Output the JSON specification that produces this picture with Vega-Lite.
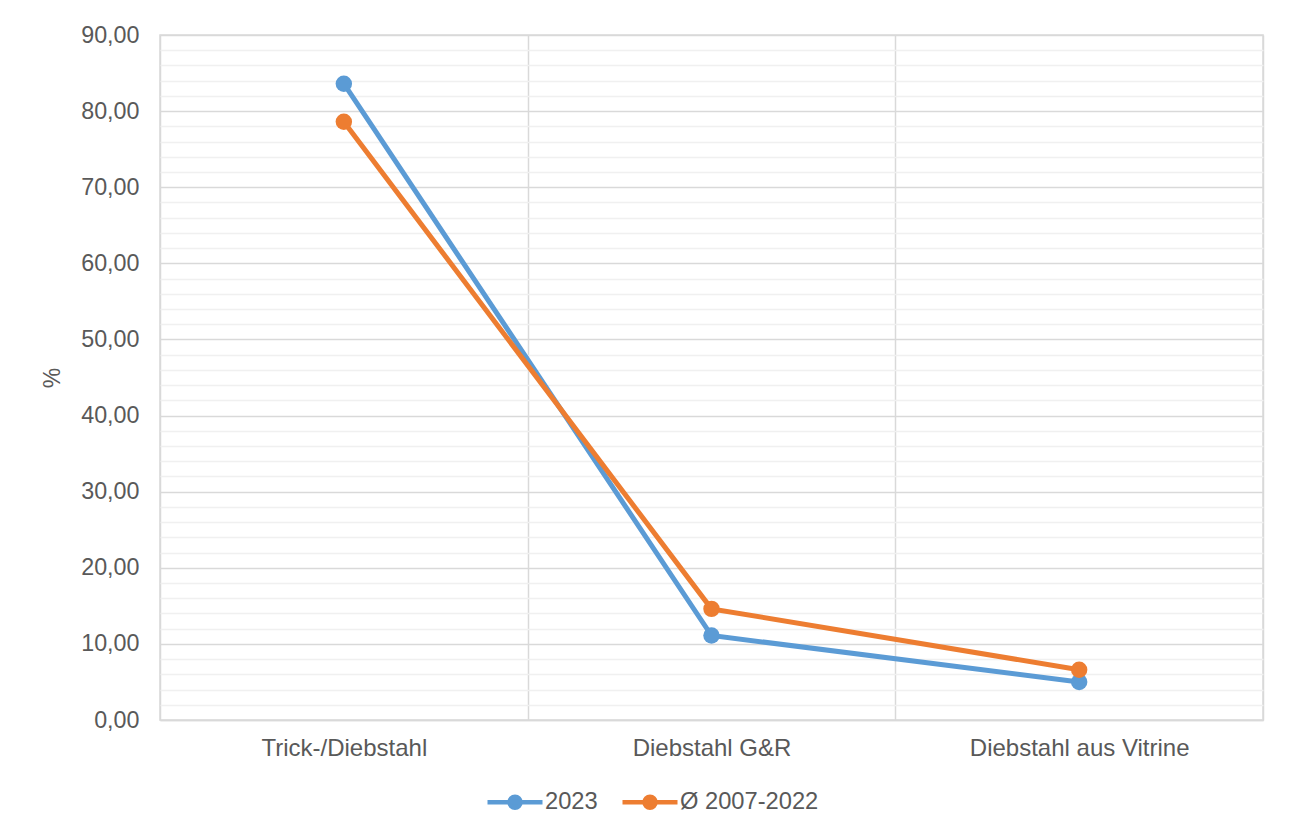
{
  "$schema": "https://vega.github.io/schema/vega-lite/v6.json",
  "width": 1103,
  "height": 685,
  "autosize": {"type": "none"},
  "padding": {"left": 160, "top": 35, "right": 28, "bottom": 112},
  "background": "white",
  "config": {
    "font": "Liberation Sans",
    "view": {"stroke": "#d9d9d9", "strokeWidth": 1.5}
  },
  "data": {
    "values": [
      {"Kategorie": "Trick-/Diebstahl", "Reihe": "2023", "Wert": 83.6},
      {"Kategorie": "Diebstahl G&R", "Reihe": "2023", "Wert": 11.1},
      {"Kategorie": "Diebstahl aus Vitrine", "Reihe": "2023", "Wert": 5.0},
      {"Kategorie": "Trick-/Diebstahl", "Reihe": "Ø 2007-2022", "Wert": 78.6},
      {"Kategorie": "Diebstahl G&R", "Reihe": "Ø 2007-2022", "Wert": 14.6},
      {"Kategorie": "Diebstahl aus Vitrine", "Reihe": "Ø 2007-2022", "Wert": 6.6}
    ]
  },
  "encoding": {
    "x": {
      "field": "Kategorie",
      "type": "nominal",
      "sort": null,
      "scale": {"type": "band", "paddingInner": 0, "paddingOuter": 0},
      "axis": {
        "title": null,
        "labelAngle": 0,
        "labelFontSize": 24,
        "labelColor": "#595959",
        "labelPadding": 16,
        "labelLimit": 400,
        "ticks": false,
        "tickBand": "extent",
        "grid": true,
        "gridColor": "#d9d9d9",
        "gridWidth": 1.5,
        "domainColor": "#d9d9d9",
        "domainWidth": 1.5
      }
    },
    "y": {
      "field": "Wert",
      "type": "quantitative",
      "scale": {"domain": [0, 90], "nice": false, "zero": true},
      "axis": {
        "title": "%",
        "titleFontSize": 23,
        "titleFontWeight": "normal",
        "titleColor": "#595959",
        "titlePadding": 16,
        "values": [0,2,4,6,8,10,12,14,16,18,20,22,24,26,28,30,32,34,36,38,40,42,44,46,48,50,52,54,56,58,60,62,64,66,68,70,72,74,76,78,80,82,84,86,88,90],
        "labelExpr": "datum.value % 10 === 0 ? replace(format(datum.value, '.2f'), '.', ',') : ''",
        "labelFontSize": 23.3,
        "labelColor": "#595959",
        "labelPadding": 21,
        "ticks": false,
        "domain": false,
        "grid": true,
        "gridColor": {"condition": {"test": "datum.value % 10 === 0", "value": "#d9d9d9"}, "value": "#f0f0f0"},
        "gridWidth": 1.5
      }
    },
    "color": {
      "field": "Reihe",
      "type": "nominal",
      "scale": {"domain": ["2023", "Ø 2007-2022"], "range": ["#5B9BD5", "#ED7D31"]},
      "legend": {
        "title": null,
        "orient": "none",
        "direction": "horizontal",
        "legendX": 325,
        "legendY": 737,
        "labelFontSize": 23.7,
        "labelColor": "#595959",
        "labelOffset": 0,
        "columnPadding": 15,
        "symbolType": "M-1,0H1M0.2,0A0.2,0.2,0,1,1,-0.2,0A0.2,0.2,0,1,1,0.2,0Z",
        "symbolSize": 3025,
        "symbolStrokeWidth": 4.5,
        "encode": {
          "symbols": {
            "update": {
              "fill": {"scale": "color", "field": "value"},
              "stroke": {"scale": "color", "field": "value"}
            }
          }
        }
      }
    }
  },
  "layer": [
    {"mark": {"type": "line", "strokeWidth": 5}},
    {"mark": {"type": "point", "filled": true, "size": 270, "opacity": 1}}
  ]
}
